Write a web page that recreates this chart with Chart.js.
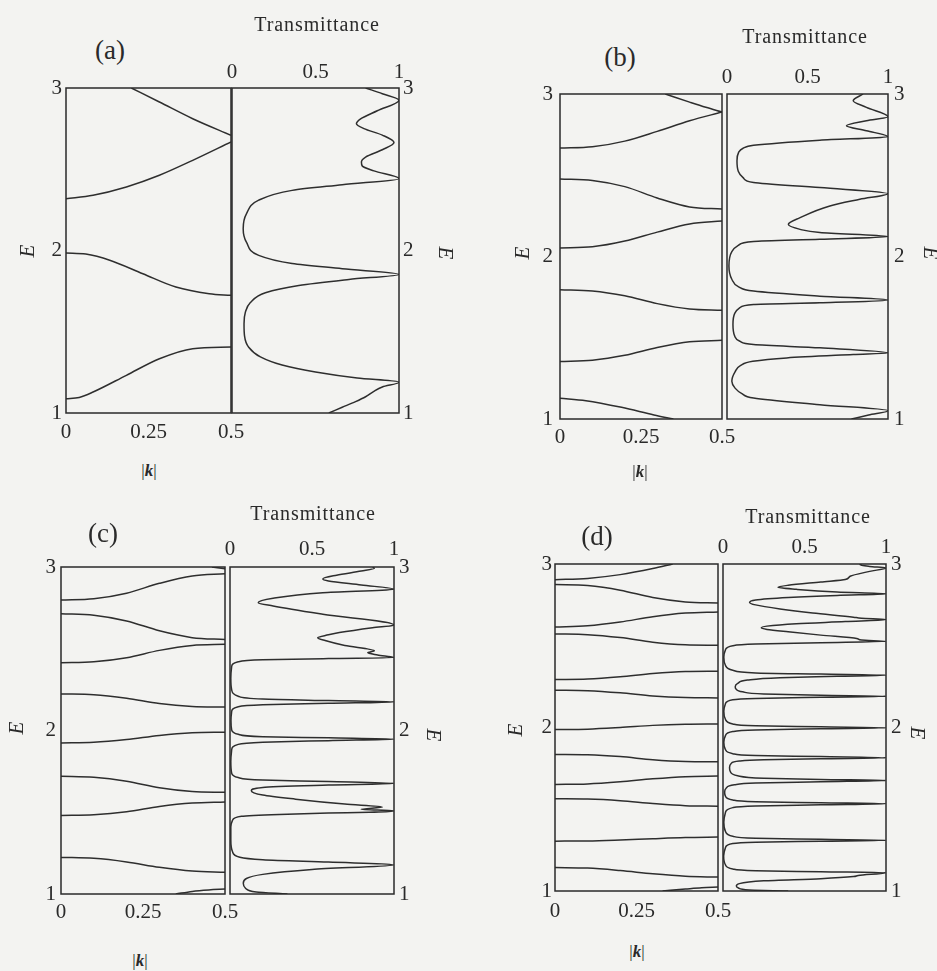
<!DOCTYPE html>
<html>
<head>
<meta charset="utf-8">
<script src="https://cdn.jsdelivr.net/npm/chart.js"></script>
<style>
  html, body { margin: 0; padding: 0; background: #f3f3f1; }
  #fig { position: relative; width: 937px; height: 971px; overflow: hidden;
         font-family: "Liberation Serif", "Times New Roman", serif; color: #2a2a2a; }
  #fig canvas { position: absolute; }
  .lbl { position: absolute; white-space: nowrap; line-height: 1; transform: translate(-50%, -50%); }
  .panel { font-size: 27px; }
  .ttl { font-size: 20px; letter-spacing: 0.9px; }
  .ax { font-size: 21px; font-style: italic; }
  .rl { transform: translate(-50%, -50%) rotate(-90deg); }
  .rr { transform: translate(-50%, -50%) rotate(90deg); }
  .kk { font-size: 17px; color: #2a2a2a; }
</style>
</head>
<body>
<div id="fig">
  <canvas id="bandA"></canvas><canvas id="transA"></canvas>
  <canvas id="bandB"></canvas><canvas id="transB"></canvas>
  <canvas id="bandC"></canvas><canvas id="transC"></canvas>
  <canvas id="bandD"></canvas><canvas id="transD"></canvas>

  <div class="lbl panel" style="left:110px;top:50px">(a)</div>
  <div class="lbl ttl" style="left:317px;top:24px">Transmittance</div>
  <div class="lbl ax rl" style="left:27px;top:251px">E</div>
  <div class="lbl ax rr" style="left:445px;top:253px">E</div>
  <div class="lbl kk" style="left:149px;top:470px">|<b><i>k</i></b>|</div>

  <div class="lbl panel" style="left:620px;top:57px">(b)</div>
  <div class="lbl ttl" style="left:805px;top:36px">Transmittance</div>
  <div class="lbl ax rl" style="left:522px;top:253px">E</div>
  <div class="lbl ax rr" style="left:930px;top:253px">E</div>
  <div class="lbl kk" style="left:640px;top:471px">|<b><i>k</i></b>|</div>

  <div class="lbl panel" style="left:103px;top:533px">(c)</div>
  <div class="lbl ttl" style="left:313px;top:513px">Transmittance</div>
  <div class="lbl ax rl" style="left:16px;top:728px">E</div>
  <div class="lbl ax rr" style="left:433px;top:735px">E</div>
  <div class="lbl kk" style="left:140px;top:960px">|<b><i>k</i></b>|</div>

  <div class="lbl panel" style="left:597px;top:536px">(d)</div>
  <div class="lbl ttl" style="left:808px;top:516px">Transmittance</div>
  <div class="lbl ax rl" style="left:515px;top:730px">E</div>
  <div class="lbl ax rr" style="left:917px;top:733px">E</div>
  <div class="lbl kk" style="left:637px;top:951px">|<b><i>k</i></b>|</div>
</div>

<script>
// Tick values and their printed labels
const eTicks = [1, 2, 3];
const eTickLabels = ['1', '2', '3'];
const kTicks = [0, 0.25, 0.5];
const kTickLabels = ['0', '0.25', '0.5'];
const tTicks = [0, 0.5, 1];
const tTickLabels = ['0', '0.5', '1'];

// Band structures: each band is a list of [|k|, E] points
const bandsA = [
  [[0,1.088],[0.04,1.096],[0.082,1.129],[0.183,1.232],[0.283,1.334],[0.384,1.396],[0.5,1.406]],
  [[0,1.985],[0.06,1.978],[0.1325,1.94],[0.233,1.857],[0.333,1.775],[0.434,1.734],[0.5,1.724]],
  [[0,2.319],[0.082,2.34],[0.183,2.391],[0.283,2.463],[0.384,2.555],[0.5,2.668]],
  [[0.198,3.0],[0.283,2.914],[0.384,2.811],[0.5,2.709]]
];
const bandsB = [
  [[0,1.128],[0.08,1.113],[0.19,1.072],[0.29,1.025],[0.35,1.0]],
  [[0,1.354],[0.1,1.362],[0.2,1.392],[0.3,1.44],[0.4,1.475],[0.5,1.484]],
  [[0,1.796],[0.1,1.788],[0.2,1.758],[0.3,1.71],[0.4,1.677],[0.5,1.669]],
  [[0,2.053],[0.1,2.06],[0.2,2.095],[0.3,2.15],[0.4,2.2],[0.5,2.218]],
  [[0,2.477],[0.1,2.468],[0.2,2.43],[0.3,2.36],[0.4,2.305],[0.5,2.292]],
  [[0,2.667],[0.1,2.675],[0.2,2.71],[0.3,2.77],[0.4,2.835],[0.5,2.889]],
  [[0.325,3.0],[0.4,2.95],[0.45,2.918],[0.5,2.889]]
];
const bandsC = [
  [[0.35,1.0],[0.4,1.016],[0.45,1.025],[0.5,1.03]],
  [[0,1.224],[0.1,1.218],[0.2,1.196],[0.3,1.163],[0.4,1.14],[0.5,1.133]],
  [[0,1.48],[0.1,1.485],[0.2,1.503],[0.3,1.535],[0.4,1.556],[0.5,1.563]],
  [[0,1.72],[0.1,1.714],[0.2,1.69],[0.3,1.65],[0.4,1.627],[0.5,1.622]],
  [[0,1.924],[0.1,1.928],[0.2,1.945],[0.3,1.97],[0.4,1.986],[0.5,1.99]],
  [[0,2.224],[0.1,2.219],[0.2,2.197],[0.3,2.165],[0.4,2.147],[0.5,2.143]],
  [[0,2.414],[0.1,2.42],[0.2,2.445],[0.3,2.49],[0.4,2.52],[0.5,2.527]],
  [[0,2.714],[0.1,2.705],[0.2,2.67],[0.3,2.61],[0.4,2.568],[0.5,2.557]],
  [[0,2.798],[0.1,2.806],[0.2,2.84],[0.3,2.9],[0.4,2.945],[0.5,2.959]],
  [[0.46,3.0],[0.5,2.99]]
];
const bandsD = [
  [[0.33,1.0],[0.4,1.012],[0.45,1.02],[0.5,1.024]],
  [[0,1.143],[0.1,1.14],[0.2,1.125],[0.3,1.105],[0.4,1.09],[0.5,1.085]],
  [[0,1.305],[0.1,1.306],[0.2,1.312],[0.3,1.32],[0.4,1.327],[0.5,1.33]],
  [[0,1.564],[0.1,1.562],[0.2,1.552],[0.3,1.535],[0.4,1.522],[0.5,1.519]],
  [[0,1.652],[0.1,1.655],[0.2,1.668],[0.3,1.686],[0.4,1.699],[0.5,1.703]],
  [[0,1.835],[0.1,1.833],[0.2,1.822],[0.3,1.803],[0.4,1.792],[0.5,1.79]],
  [[0,1.988],[0.1,1.99],[0.2,2.0],[0.3,2.013],[0.4,2.02],[0.5,2.022]],
  [[0,2.228],[0.1,2.225],[0.2,2.212],[0.3,2.193],[0.4,2.183],[0.5,2.181]],
  [[0,2.293],[0.1,2.296],[0.2,2.31],[0.3,2.33],[0.4,2.342],[0.5,2.344]],
  [[0,2.572],[0.1,2.568],[0.2,2.55],[0.3,2.522],[0.4,2.506],[0.5,2.503]],
  [[0,2.615],[0.1,2.622],[0.2,2.645],[0.3,2.678],[0.4,2.7],[0.5,2.707]],
  [[0,2.874],[0.1,2.868],[0.2,2.84],[0.3,2.795],[0.4,2.768],[0.5,2.762]],
  [[0,2.904],[0.1,2.912],[0.2,2.935],[0.3,2.972],[0.361,3.0]]
];

// Transmittance spectra: [T, E] points, ordered by increasing E
const transA = [
  [0.58,1.0],[0.66,1.035],[0.74,1.07],[0.8,1.1],[0.845,1.13],[0.9,1.16],[1.0,1.19],
  [0.75,1.215],[0.5,1.252],[0.3,1.295],[0.17,1.345],[0.1,1.405],[0.075,1.475],[0.072,1.55],[0.08,1.62],[0.11,1.68],[0.2,1.74],[0.4,1.785],[0.7,1.822],[1.0,1.853],
  [0.66,1.888],[0.36,1.92],[0.16,1.97],[0.087,2.05],[0.067,2.134],[0.087,2.227],[0.16,2.31],[0.36,2.37],[0.66,2.405],[1.0,2.442],
  [0.85,2.49],[0.78,2.52],[0.775,2.545],[0.8,2.575],[0.9,2.62],[0.97,2.665],[0.9,2.71],[0.79,2.75],[0.745,2.78],[0.77,2.81],[0.87,2.86],[1.0,2.925],[0.9,2.965],[0.8,3.0]
];
const transB = [
  [0.773,1.0],[0.88,1.025],[1.0,1.051],
  [0.577,1.088],[0.165,1.129],[0.09,1.158],[0.05,1.19],[0.03,1.232],[0.05,1.29],[0.085,1.33],[0.16,1.355],[0.371,1.376],[0.784,1.397],[1.0,1.407],
  [0.577,1.438],[0.165,1.458],[0.08,1.478],[0.048,1.51],[0.037,1.582],[0.048,1.65],[0.08,1.685],[0.165,1.705],[0.577,1.715],[1.0,1.732],
  [0.577,1.756],[0.165,1.787],[0.07,1.815],[0.03,1.86],[0.012,1.941],[0.03,2.03],[0.07,2.068],[0.165,2.092],[0.577,2.106],[1.0,2.122],
  [0.577,2.147],[0.454,2.167],[0.381,2.198],[0.454,2.239],[0.639,2.311],[0.825,2.352],[1.0,2.387],
  [0.577,2.424],[0.165,2.455],[0.1,2.485],[0.07,2.525],[0.062,2.589],[0.072,2.64],[0.1,2.666],[0.165,2.684],[0.577,2.716],[1.0,2.737],
  [0.866,2.774],[0.742,2.805],[0.866,2.836],[1.0,2.86],
  [0.866,2.918],[0.784,2.959],[0.845,3.0]
];
const transC = [
  [0.35,1.0],[0.16,1.012],[0.095,1.035],[0.081,1.065],[0.1,1.095],[0.2,1.12],[0.5,1.15],[1.0,1.179],
  [0.6,1.195],[0.2,1.21],[0.06,1.225],[0.015,1.26],[0.005,1.33],[0.005,1.41],[0.015,1.45],[0.07,1.475],[0.3,1.487],[0.6,1.495],[0.85,1.5],[1.0,1.508],
  [0.8,1.518],[0.93,1.532],[0.7,1.55],[0.4,1.58],[0.2,1.605],[0.13,1.632],[0.2,1.652],[0.6,1.666],[1.0,1.676],
  [0.6,1.688],[0.2,1.697],[0.05,1.712],[0.01,1.74],[0.005,1.81],[0.01,1.88],[0.05,1.915],[0.2,1.928],[0.6,1.938],[1.0,1.947],
  [0.6,1.955],[0.2,1.962],[0.05,1.977],[0.01,2.005],[0.006,2.06],[0.01,2.115],[0.05,2.145],[0.2,2.157],[0.6,2.166],[1.0,2.175],
  [0.6,2.183],[0.2,2.192],[0.05,2.21],[0.01,2.25],[0.005,2.32],[0.01,2.39],[0.05,2.42],[0.2,2.432],[0.6,2.44],[1.0,2.446],
  [0.9,2.462],[0.84,2.476],[0.88,2.488],[0.7,2.52],[0.58,2.55],[0.535,2.568],[0.6,2.585],[0.667,2.599],[0.869,2.629],[1.0,2.645],
  [0.566,2.711],[0.263,2.762],[0.172,2.782],[0.263,2.809],[0.566,2.843],[1.0,2.864],
  [0.8,2.89],[0.6,2.915],[0.566,2.927],[0.65,2.95],[0.8,2.975],[0.88,2.992],[0.87,3.0]
];
const transD = [
  [0.4,1.0],[0.16,1.006],[0.095,1.018],[0.082,1.031],[0.1,1.045],[0.25,1.062],[0.6,1.075],[0.8,1.088],[0.83,1.095],[1.0,1.112],
  [0.6,1.118],[0.2,1.124],[0.06,1.135],[0.015,1.16],[0.004,1.214],[0.015,1.265],[0.06,1.29],[0.2,1.298],[0.6,1.304],[1.0,1.31],
  [0.6,1.316],[0.2,1.322],[0.06,1.335],[0.015,1.365],[0.005,1.42],[0.015,1.48],[0.06,1.51],[0.2,1.52],[0.6,1.527],[1.0,1.534],
  [0.6,1.54],[0.2,1.546],[0.06,1.557],[0.015,1.58],[0.01,1.605],[0.02,1.63],[0.07,1.65],[0.2,1.66],[0.6,1.668],[1.0,1.676],
  [0.6,1.682],[0.25,1.69],[0.09,1.705],[0.045,1.73],[0.04,1.755],[0.05,1.78],[0.1,1.795],[0.25,1.803],[0.6,1.809],[1.0,1.815],
  [0.6,1.822],[0.2,1.828],[0.06,1.84],[0.015,1.865],[0.005,1.91],[0.015,1.95],[0.06,1.975],[0.2,1.985],[0.6,1.992],[1.0,1.998],
  [0.6,2.004],[0.2,2.01],[0.06,2.022],[0.015,2.05],[0.005,2.1],[0.015,2.145],[0.06,2.17],[0.2,2.178],[0.6,2.185],[1.0,2.191],
  [0.6,2.197],[0.25,2.205],[0.12,2.218],[0.08,2.235],[0.075,2.25],[0.09,2.27],[0.15,2.29],[0.35,2.305],[0.7,2.313],[1.0,2.32],
  [0.6,2.327],[0.2,2.334],[0.06,2.35],[0.015,2.38],[0.005,2.43],[0.015,2.475],[0.06,2.5],[0.2,2.51],[0.6,2.518],[1.0,2.527],
  [0.85,2.535],[0.82,2.545],[0.6,2.565],[0.4,2.585],[0.27,2.6],[0.235,2.61],[0.27,2.62],[0.45,2.635],[0.75,2.648],[1.0,2.66],
  [0.85,2.668],[0.8,2.675],[0.55,2.7],[0.35,2.725],[0.2,2.75],[0.163,2.765],[0.2,2.78],[0.4,2.795],[0.7,2.808],[1.0,2.817],
  [0.7,2.828],[0.45,2.845],[0.337,2.858],[0.4,2.87],[0.6,2.89],[0.75,2.905],[0.78,2.925],[0.9,2.955],[1.0,2.976],
  [0.9,2.985],[0.84,2.995],[0.85,3.0]
];

const LINE = '#2e2e2e';
const TEXT = '#2a2a2a';
const tickFont = { family: '"Liberation Serif", "Times New Roman", serif', size: 21 };

// Draws a closed frame around the plotting area
const frame = {
  id: 'frame',
  afterDatasetsDraw(chart) {
    const { ctx, chartArea: a } = chart;
    ctx.save();
    ctx.strokeStyle = '#2a2a2a';
    ctx.lineWidth = 1.5;
    ctx.strokeRect(a.left, a.top, a.right - a.left, a.bottom - a.top);
    ctx.restore();
  }
};

function noPad(s) { s.paddingLeft = 0; s.paddingRight = 0; s.paddingTop = 0; s.paddingBottom = 0; }

function axis(pos, min, max, values, labels, pad, size) {
  const horizontal = pos === 'top' || pos === 'bottom';
  return {
    type: 'linear', position: pos, min, max,
    afterBuildTicks: s => { s.ticks = values.map(v => ({ value: v })); },
    afterFit: s => { if (horizontal) s.height = size; else s.width = size; noPad(s); },
    grid: { display: false, drawTicks: false },
    border: { display: false },
    ticks: { padding: pad, font: tickFont, color: TEXT, maxRotation: 0, minRotation: 0,
             autoSkip: false, callback: (v, i) => labels[i] }
  };
}

function place(cv, box, l, t, r, b) {
  const [x0, y0, x1, y1] = box;
  cv.width = x1 - x0 + l + r;
  cv.height = y1 - y0 + t + b;
  cv.style.left = (x0 - l) + 'px';
  cv.style.top = (y0 - t) + 'px';
}

function lineSet(points, asXY) {
  return {
    data: points.map(asXY),
    borderColor: LINE, borderWidth: 1.5, pointRadius: 0,
    cubicInterpolationMode: 'monotone', fill: false
  };
}

// E against |k| in the left frame
function bandChart(id, box, bands, pad) {
  const cv = document.getElementById(id);
  const L = 50, R = 22, T = 20, B = 44;
  place(cv, box, L, T, R, B);
  return new Chart(cv, {
    type: 'line',
    data: { datasets: bands.map(b => lineSet(b, ([k, e]) => ({ x: k, y: e }))) },
    options: {
      responsive: false, animation: false, events: [],
      layout: { autoPadding: false, padding: { left: 0, top: T, right: R, bottom: 0 } },
      plugins: { legend: { display: false }, tooltip: { enabled: false } },
      scales: {
        x: axis('bottom', 0, 0.5, kTicks, kTickLabels, pad.b, B),
        y: axis('left', 1, 3, eTicks, eTickLabels, pad.l, L)
      }
    },
    plugins: [frame]
  });
}

// Transmittance against E in the right frame (E runs vertically)
function transChart(id, box, trans, pad) {
  const cv = document.getElementById(id);
  const L = 20, R = 40, T = 44, B = 20;
  place(cv, box, L, T, R, B);
  return new Chart(cv, {
    type: 'line',
    data: { datasets: [lineSet(trans, ([t, e]) => ({ x: t, y: e }))] },
    options: {
      indexAxis: 'y',
      responsive: false, animation: false, events: [],
      layout: { autoPadding: false, padding: { left: L, top: 0, right: 0, bottom: B } },
      plugins: { legend: { display: false }, tooltip: { enabled: false } },
      scales: {
        x: axis('top', 0, 1, tTicks, tTickLabels, pad.t, T),
        y: axis('right', 1, 3, eTicks, eTickLabels, pad.r, R)
      }
    },
    plugins: [frame]
  });
}

bandChart('bandA', [66, 88, 231, 413], bandsA, { l: 4, b: 7 });
transChart('transA', [232, 88, 399, 413], transA, { t: 3, r: 4 });
bandChart('bandB', [560, 94, 722, 419], bandsB, { l: 7, b: 6 });
transChart('transB', [727, 94, 888, 419], transB, { t: 4, r: 6 });
bandChart('bandC', [61, 567, 225, 894], bandsC, { l: 5, b: 6 });
transChart('transC', [230, 567, 394, 894], transC, { t: 5, r: 5 });
bandChart('bandD', [555, 564, 718, 891], bandsD, { l: 3, b: 8 });
transChart('transD', [723, 564, 886, 891], transD, { t: 4, r: 5 });
</script>
</body>
</html>
